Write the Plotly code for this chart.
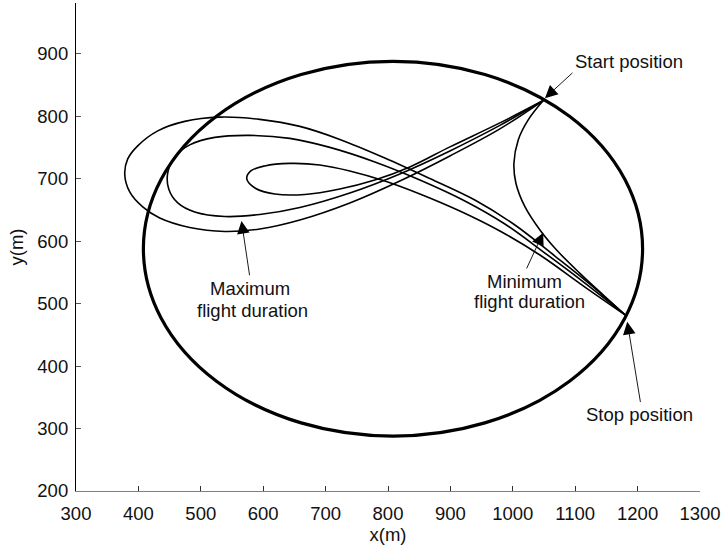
import plotly.graph_objects as go

# ---- flight area: elliptical boundary (metres) ----
area_center_x = 808.0
area_center_y = 588.0
area_radius_x = 400.0
area_radius_y = 300.0

# ---- trajectories, listed from start position to stop position ----
min_x = [1048.8, 1024.7, 1008.7, 1001.8, 1005.0, 1019.4, 1043.5, 1070.2, 1107.6, 1145.0, 1180.0]
min_y = [825.3, 794.4, 762.3, 724.9, 692.9, 655.3, 618.0, 585.9, 548.6, 513.8, 482.0]

loop_small_x = [1048.8, 979.3, 899.2, 835.0, 778.9, 722.8, 666.7, 618.6, 588.1, 573.7, 580.1,
                602.5, 642.6, 690.7, 738.8, 794.9, 851.1, 915.2, 979.3, 1043.4, 1115.6, 1180.0]
loop_small_y = [825.3, 789.5, 751.1, 719.0, 698.1, 683.7, 674.9, 675.7, 684.5, 699.8, 712.6,
                720.6, 724.6, 722.2, 712.6, 696.5, 675.7, 648.4, 616.4, 577.9, 526.6, 482.0]

loop_mid_x = [1048.8, 979.3, 899.2, 819.0, 738.8, 658.7, 594.5, 538.4, 490.3, 463.1, 448.6,
              447.0, 458.2, 482.3, 522.4, 578.5, 642.6, 706.8, 778.9, 851.1, 923.2, 987.3,
              1051.5, 1115.6, 1180.0]
loop_mid_y = [825.3, 785.5, 744.6, 707.8, 677.3, 654.1, 642.8, 639.6, 646.8, 661.3, 683.7,
              709.4, 735.0, 754.3, 766.3, 769.5, 764.7, 750.3, 727.0, 698.1, 664.5, 627.6,
              581.1, 533.0, 482.0]

loop_big_x = [1048.8, 979.3, 899.2, 819.0, 738.8, 658.7, 594.5, 538.4, 482.3, 434.2, 406.9,
              386.1, 378.1, 382.9, 398.9, 431.0, 474.3, 530.4, 594.5, 658.7, 722.8, 794.9,
              867.1, 939.2, 1003.4, 1067.5, 1123.6, 1180.0]
loop_big_y = [825.3, 779.9, 736.6, 696.5, 661.3, 634.0, 619.6, 615.6, 622.0, 637.2, 654.9,
              678.9, 707.8, 731.8, 752.7, 776.7, 791.9, 798.7, 795.1, 783.9, 763.1, 733.4,
              700.5, 666.1, 626.0, 576.3, 531.4, 482.0]

x_ticks = [300, 400, 500, 600, 700, 800, 900, 1000, 1100, 1200, 1300]
y_ticks = [200, 300, 400, 500, 600, 700, 800, 900]

FONT = "Liberation Sans, Arial, Helvetica, sans-serif"
TXT = 18.5

fig = go.Figure()

for xs, ys in [(min_x, min_y), (loop_small_x, loop_small_y),
               (loop_mid_x, loop_mid_y), (loop_big_x, loop_big_y)]:
    fig.add_trace(go.Scatter(
        x=xs, y=ys, mode="lines",
        line=dict(color="black", width=1.6, shape="spline", smoothing=1.0),
        hoverinfo="skip", showlegend=False,
    ))

# elliptical boundary
fig.add_shape(
    type="circle", xref="x", yref="y",
    x0=area_center_x - area_radius_x, x1=area_center_x + area_radius_x,
    y0=area_center_y - area_radius_y, y1=area_center_y + area_radius_y,
    line=dict(color="black", width=3.2),
)

# arrows: (tip_x, tip_y, tail_x, tail_y)
arrows = [
    (1051.5, 829.1, 1098.0, 871.8),
    (1183.4, 471.0, 1204.9, 340.1),
    (565.2, 632.4, 578.5, 543.1),
    (1048.7, 613.7, 1021.0, 553.9),
]
for tx, ty, sx, sy in arrows:
    fig.add_annotation(
        x=tx, y=ty, ax=sx, ay=sy, xref="x", yref="y", axref="x", ayref="y",
        text="", showarrow=True, arrowhead=2, arrowsize=2.8, arrowwidth=0.9,
        arrowcolor="black", standoff=0, startstandoff=0,
    )

labels = [
    ("Start position", 1185.7, 887.8),
    ("Stop position", 1203.8, 322.7),
    ("Maximum", 578.5, 524.5),
    ("flight duration", 582.8, 489.7),
    ("Minimum", 1019.4, 535.1),
    ("flight duration", 1027.4, 503.0),
]
for text, lx, ly in labels:
    fig.add_annotation(
        x=lx, y=ly, xref="x", yref="y", text=text, showarrow=False,
        xanchor="center", yanchor="middle",
        font=dict(family=FONT, size=TXT, color="#111"),
    )

fig.update_xaxes(
    range=[300, 1300], tickvals=x_ticks, ticktext=[str(v) for v in x_ticks],
    showgrid=False, zeroline=False, showline=True, linecolor="#808080", linewidth=1.2,
    ticks="inside", ticklen=5, tickwidth=1, tickcolor="#333",
    tickfont=dict(family=FONT, size=TXT, color="#111"),
    ticklabelstandoff=6,
    title=dict(text="x(m)", font=dict(family=FONT, size=TXT, color="#111"), standoff=4),
)
fig.update_yaxes(
    range=[200, 981.5], tickvals=y_ticks, ticktext=[str(v) for v in y_ticks],
    showgrid=False, zeroline=False, showline=True, linecolor="black", linewidth=1.2,
    ticks="inside", ticklen=5, tickwidth=1, tickcolor="#555",
    tickfont=dict(family=FONT, size=TXT, color="#111"),
    ticklabelstandoff=3,
    title=dict(text="y(m)", font=dict(family=FONT, size=TXT, color="#111"), standoff=8),
)

fig.update_layout(
    width=724, height=551,
    margin=dict(l=76, r=24, t=3, b=60),
    plot_bgcolor="white", paper_bgcolor="white",
    showlegend=False,
)

fig.write_html("out.html")
